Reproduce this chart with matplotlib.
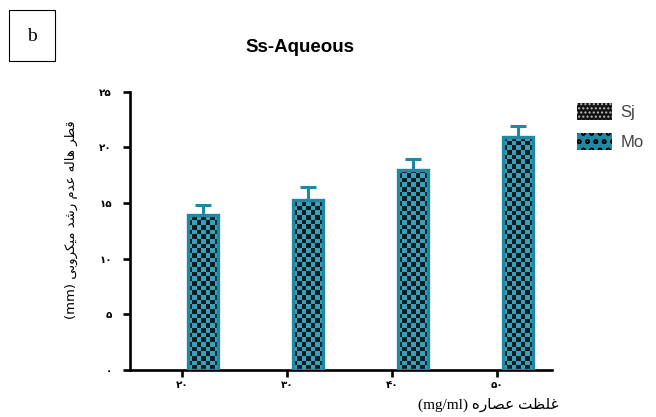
import numpy as np
import matplotlib
matplotlib.use("Agg")
import matplotlib.pyplot as plt
from matplotlib.colors import ListedColormap
from matplotlib.patches import Patch, Rectangle

# data
concentrations = ["\u06F2\u06F0", "\u06F3\u06F0", "\u06F4\u06F0", "\u06F5\u06F0"]  # 20 30 40 50
mo_values = [13.9, 15.3, 18.0, 20.9]
mo_errors = [0.9, 1.15, 1.0, 1.0]
y_ticks = [0, 5, 10, 15, 20, 25]
y_tick_labels = ["\u06F0", "\u06F5", "\u06F1\u06F0", "\u06F1\u06F5", "\u06F2\u06F0", "\u06F2\u06F5"]
series_names = ["Sj", "Mo"]

# arabic text pre-shaped (presentation forms, visual order)
ylabel_txt = ("(mm) "
              "\uFBFD\uFE91\uFEED\uFEAE\uFB91\uFBFF\uFEE3 "   # میکروبی
              "\uFEAA\uFEB7\uFEAD "                           # رشد
              "\uFEE1\uFEAA\uFECB "                           # عدم
              "\uFEEA\uFEDF\uFE8E\uFEEB "                     # هاله
              "\uFEAE\uFEC4\uFED7")                           # قطر
xlabel_txt = ("(mg/ml) "
              "\uFEE9\uFEAD\uFE8E\uFEBC\uFECB "               # عصاره
              "\uFE96\uFEC8\uFEE0\uFECF")                     # غلظت

teal = "#2088a2"
teal_light = "#3a9fb8"
dark = "#0c1d22"

fig = plt.figure(figsize=(6.56, 4.17), dpi=100)
ax = fig.add_axes([0.198, 0.1127, 0.643, 0.667])

x = np.arange(len(concentrations))
bar_off = 0.2
bar_w = 0.286

bars = ax.bar(x + bar_off, mo_values, width=bar_w, color=teal, zorder=2)

# checker texture clipped to each bar
cell_h = 0.42
cmap = ListedColormap([teal_light, dark])
for rect in bars:
    x0, w, h = rect.get_x(), rect.get_width(), rect.get_height()
    ny = int(np.ceil(h / cell_h))
    board = np.add.outer(np.arange(ny), np.arange(7)) % 2
    im = ax.imshow(board, extent=(x0, x0 + w, 0, ny * cell_h), origin="lower",
                   cmap=cmap, interpolation="nearest", aspect="auto", zorder=2.1)
    im.set_clip_path(rect)

ax.bar(x + bar_off, mo_values, width=bar_w, fill=False, edgecolor=teal,
       linewidth=2.4, zorder=3)
ax.errorbar(x + bar_off, mo_values, yerr=[np.zeros(len(mo_errors)), mo_errors],
            fmt="none", ecolor=teal, elinewidth=2.2, capsize=6, capthick=2.2, zorder=1.5)

ax.set_xlim(-0.495, 3.524)
ax.set_ylim(0, 25)
ax.set_xticks(x)
ax.set_xticklabels(concentrations, fontsize=7.5, fontweight="bold")
ax.set_yticks(y_ticks)
ax.set_yticklabels(y_tick_labels, fontsize=7.5, fontweight="bold")
for s in ["top", "right"]:
    ax.spines[s].set_visible(False)
for s in ["left", "bottom"]:
    ax.spines[s].set_linewidth(1.9)
ax.tick_params(axis="both", width=1.9, length=5, direction="out")
ax.tick_params(axis="y", pad=8)
ax.tick_params(axis="x", pad=2)

ax.set_ylabel(ylabel_txt, family=["DejaVu Sans"], fontsize=9.5)
ax.yaxis.set_label_coords(-0.122, 0.54)
fig.text(0.851, 0.028, xlabel_txt, family=["Liberation Serif", "DejaVu Sans"],
         fontsize=11, ha="right", va="center")

fig.text(0.457, 0.887, "Ss-Aqueous", family="Liberation Sans", fontweight="bold",
         fontsize=13.5, ha="center", va="center")

# panel letter box
fig.patches.append(Rectangle((0.0137, 0.854), 0.070, 0.122, transform=fig.transFigure,
                             fill=False, edgecolor="black", linewidth=0.8))
fig.text(0.049, 0.913, "b", family="Liberation Serif", fontsize=14,
         ha="center", va="center")

# legend
plt.rcParams["hatch.color"] = "#bbbbbb"
sj_handle = Patch(facecolor="#111111", hatch="....")
plt.rcParams["hatch.color"] = "black"
mo_handle = Patch(facecolor=teal, hatch="oo")
fig.legend([sj_handle, mo_handle], series_names, loc="upper left",
           bbox_to_anchor=(0.857, 0.79), frameon=False,
           handlelength=2.1, handleheight=1.25, labelspacing=0.75,
           handletextpad=0.5, labelcolor="#444444", prop={"family": "Liberation Sans", "size": 12})

fig.savefig("out.png", dpi=100)
